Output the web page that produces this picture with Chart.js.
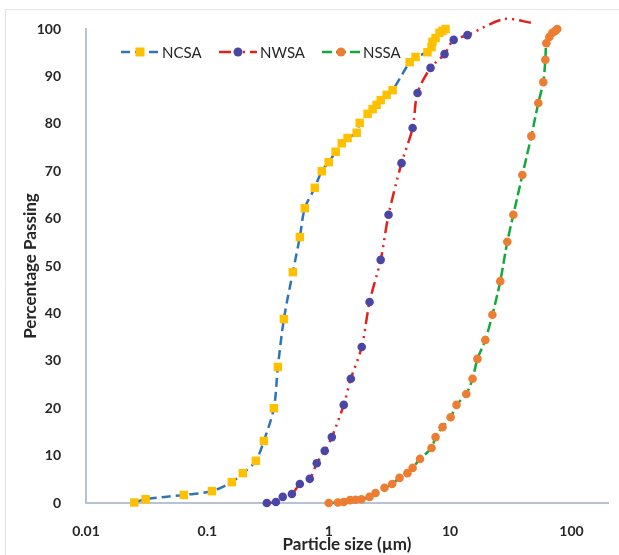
<!DOCTYPE html>
<html>
<head>
<meta charset="utf-8">
<script src="https://cdn.jsdelivr.net/npm/chart.js@4"></script>
<style>
  html, body { margin: 0; padding: 0; background: #fff; }
  #wrap { width: 619px; height: 555px; position: relative; }
</style>
</head>
<body>
<div id="wrap"><canvas id="chartCanvas" width="619" height="555"></canvas></div>
<script>
// particle size (µm) and % passing
const ncsaSize = [0.025, 0.031, 0.064, 0.109, 0.159, 0.196, 0.251, 0.292, 0.353, 0.381, 0.427, 0.506, 0.578, 0.635, 0.767, 0.876,
    1.0, 1.14, 1.28, 1.43, 1.70, 1.80, 2.09, 2.30, 2.48, 2.68, 3.00, 3.36, 4.64, 5.19, 6.51, 7.03, 7.16, 7.59, 8.18, 8.66, 9.17];
const ncsaPassing = [0.1, 0.8, 1.7, 2.5, 4.4, 6.3, 8.9, 13.1, 20.0, 28.7, 38.8, 48.7, 56.1, 62.2, 66.5, 70.0,
    71.9, 74.1, 75.9, 77.0, 78.1, 80.2, 82.1, 83.1, 84.0, 85.0, 86.1, 87.1, 93.0, 94.1, 95.1, 96.2, 97.3, 98.1, 99.2, 99.6, 100];

const nwsaSize = [0.309, 0.367, 0.418, 0.497, 0.578, 0.698, 0.797, 0.927, 1.06, 1.33, 1.52, 1.87, 2.17, 2.68, 3.11, 3.98,
    4.91, 5.39, 6.90, 9.0, 10.7, 13.9, 28, 46.7];
const nwsaPassing = [0, 0.2, 1.3, 1.9, 4.0, 5.1, 8.4, 11.0, 13.9, 20.7, 26.2, 32.9, 42.4, 51.3, 60.8, 71.7,
    79.1, 86.5, 91.8, 94.7, 97.7, 98.7, 102.1, 101.3];
const nwsaMarked = 22; // the last two points are only the curve tail, no marker

const nssaSize = [1.0, 1.19, 1.33, 1.50, 1.66, 1.86, 2.17, 2.43, 2.88, 3.33, 3.83, 4.45, 4.91, 5.65, 7.03, 7.59, 8.66,
    10.1, 11.3, 13.6, 15.3, 16.8, 19.5, 22.3, 25.9, 29.6, 33.2, 39.4, 46.7, 53.3, 58.6, 60.9, 62.1, 65.7, 69.5, 73.6, 76.4, 80.5];
const nssaPassing = [0, 0.1, 0.2, 0.6, 0.7, 0.8, 1.3, 2.1, 3.2, 4.0, 5.3, 6.3, 7.4, 9.3, 11.6, 13.9, 16.0,
    18.1, 20.7, 23.0, 26.2, 30.4, 34.4, 39.7, 46.8, 55.1, 60.8, 69.2, 77.4, 84.4, 88.8, 93.5, 97.0, 98.3, 99.2, 99.6, 100, 100.4];
const nssaMarked = 37; // last point is the short line end past the final marker

const xTicks = [0.01, 0.1, 1, 10, 100];

function toPoints(xs, ys) {
    return xs.map((x, i) => ({ x: x, y: ys[i] }));
}

const FONT = "Lato, 'Open Sans', sans-serif";
const AXIS_COLOR = "#b7c2d3";
const TEXT_COLOR = "#262626";

// legend inside the plot, line + marker + label like Excel
const legendPlugin = {
    id: "inlineLegend",
    afterDraw(chart) {
        const ctx = chart.ctx;
        const items = [
            { x0: 121, ds: chart.data.datasets[0] },
            { x0: 219, ds: chart.data.datasets[1] },
            { x0: 322, ds: chart.data.datasets[2] }
        ];
        const y = 52;
        items.forEach(it => {
            const ds = it.ds;
            ctx.save();
            ctx.strokeStyle = ds.borderColor;
            ctx.lineWidth = ds.borderWidth;
            ctx.setLineDash(ds.borderDash);
            ctx.beginPath();
            ctx.moveTo(it.x0, y);
            ctx.lineTo(it.x0 + 38, y);
            ctx.stroke();
            ctx.setLineDash([]);
            ctx.fillStyle = ds.pointBackgroundColor;
            const mx = it.x0 + 19;
            if (ds.pointStyle === "rect") {
                ctx.fillRect(mx - 4.5, y - 4.5, 9, 9);
            } else {
                ctx.beginPath();
                ctx.arc(mx, y, 4.5, 0, Math.PI * 2);
                ctx.fill();
            }
            ctx.fillStyle = TEXT_COLOR;
            ctx.font = "15px " + FONT;
            ctx.textBaseline = "middle";
            ctx.fillText(ds.label, it.x0 + 41, y + 1);
            ctx.restore();
        });
    },
    beforeDraw(chart) {
        // faint outer frame of the original chart
        const ctx = chart.ctx;
        ctx.save();
        ctx.strokeStyle = "#e3e3e3";
        ctx.lineWidth = 1;
        ctx.beginPath();
        ctx.moveTo(5.5, 555);
        ctx.lineTo(5.5, 9.5);
        ctx.lineTo(619, 9.5);
        ctx.stroke();
        ctx.restore();
    }
};

const chartCanvas = document.getElementById("chartCanvas").getContext("2d");

new Chart(chartCanvas, {
    type: "line",
    data: {
        datasets: [
            {
                label: "NCSA",
                data: toPoints(ncsaSize, ncsaPassing),
                borderColor: "#2e75b6",
                borderWidth: 2.5,
                borderDash: [9, 5],
                pointStyle: "rect",
                pointRadius: 6,
                pointBackgroundColor: "#ffc000",
                pointBorderWidth: 0,
                tension: 0.3,
                clip: false
            },
            {
                label: "NWSA",
                data: toPoints(nwsaSize, nwsaPassing),
                borderColor: "#e3201b",
                borderWidth: 2.5,
                borderDash: [12, 5, 2, 5, 2, 5],
                pointStyle: "circle",
                pointRadius: c => c.dataIndex < nwsaMarked ? 4.3 : 0,
                pointBackgroundColor: "#4b46a5",
                pointBorderWidth: 0,
                tension: 0.3,
                clip: false
            },
            {
                label: "NSSA",
                data: toPoints(nssaSize, nssaPassing),
                borderColor: "#12a83c",
                borderWidth: 2.5,
                borderDash: [10, 4],
                pointStyle: "circle",
                pointRadius: c => c.dataIndex < nssaMarked ? 4.3 : 0,
                pointBackgroundColor: "#ed7d31",
                pointBorderWidth: 0,
                tension: 0.3,
                clip: false
            }
        ]
    },
    options: {
        responsive: false,
        animation: false,
        layout: { padding: { left: 0, right: 11, top: 29, bottom: 0 } },
        plugins: {
            legend: { display: false },
            tooltip: { enabled: false }
        },
        scales: {
            x: {
                type: "logarithmic",
                min: 0.01,
                max: 200,
                afterBuildTicks: axis => { axis.ticks = xTicks.map(v => ({ value: v })); },
                afterFit: axis => { axis.height = 52; },
                grid: { display: false },
                border: { display: true, color: AXIS_COLOR, width: 2 },
                ticks: {
                    autoSkip: false,
                    maxRotation: 0,
                    padding: 12,
                    color: TEXT_COLOR,
                    font: { family: FONT, size: 14, weight: "bold" },
                    callback: v => String(v)
                },
                title: {
                    display: true,
                    text: "Particle size (µm)",
                    color: TEXT_COLOR,
                    font: { family: FONT, size: 17, weight: "bold" },
                    padding: { top: 0, bottom: 0 }
                }
            },
            y: {
                min: 0,
                max: 100,
                afterFit: axis => { axis.width = 86; },
                grid: { display: false },
                border: { display: true, color: AXIS_COLOR, width: 2 },
                ticks: {
                    stepSize: 10,
                    padding: 17,
                    color: TEXT_COLOR,
                    font: { family: FONT, size: 14, weight: "bold" }
                },
                title: {
                    display: true,
                    text: "Percentage Passing",
                    color: TEXT_COLOR,
                    font: { family: FONT, size: 17, weight: "bold" },
                    padding: { top: 20, bottom: 0 }
                }
            }
        }
    },
    plugins: [legendPlugin]
});
</script>
</body>
</html>
